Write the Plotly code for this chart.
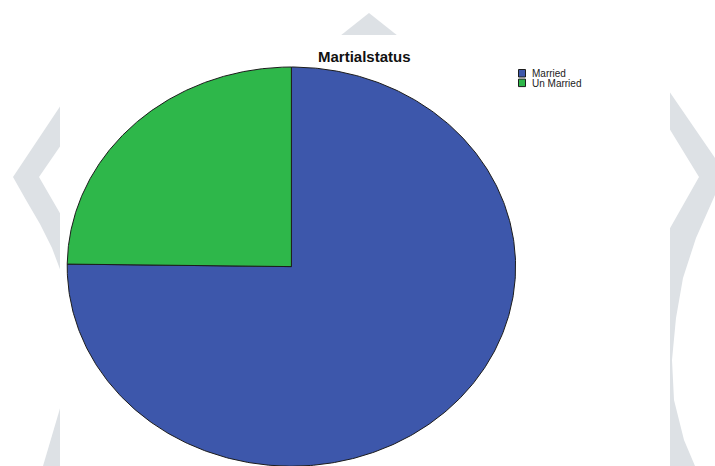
import numpy as np
import plotly.graph_objects as go

# Marital status shares (percent)
categories = ["Married", "Un Married"]
shares = [75.2, 24.8]
slice_colors = ["#3D57AB", "#2EB74A"]
chart_title = "Martialstatus"

W, H = 715, 466
CX, CY, RX, RY = 291.4, 266.6, 224.2, 199.6
OUTLINE = "#1c1c1c"
BG_GREY = "#DDE1E5"

fig = go.Figure()

# elliptical pie: slices start at 12 o'clock and run clockwise
total = float(sum(shares))
start = 0.0
for name, val, col in zip(categories, shares, slice_colors):
    sweep = 2 * np.pi * val / total
    t = np.linspace(start, start + sweep, 400)
    xs = np.concatenate([[CX], CX + RX * np.sin(t), [CX]])
    ys = np.concatenate([[CY], CY - RY * np.cos(t), [CY]])
    fig.add_trace(go.Scatter(
        x=xs, y=ys, mode="lines", fill="toself", fillcolor=col,
        line=dict(color=OUTLINE, width=1), name=name,
        hoverinfo="name", showlegend=False,
    ))
    start += sweep

# page decorations behind the chart panel
shapes = [
    dict(type="path", path="M 340 36 L 369 13 L 398 36 Z"),
    dict(type="path", path="M 61 105 L 13 177 L 26 200 L 40 224 L 52 248 L 61 272 "
                           "L 61 215 L 39 177 L 61 145 Z"),
    dict(type="path", path="M 61 405 L 43 466 L 61 466 Z"),
    dict(type="path", path="M 669 91 L 715 158 L 715 195 L 696 238 L 683 278 L 676 318 "
                           "L 672 360 L 674 400 L 684 440 L 695 466 L 669 466 L 669 230 "
                           "L 699 177 L 669 128 Z"),
]
for s in shapes:
    s.update(xref="x", yref="y", fillcolor=BG_GREY, line=dict(width=0), layer="below")
shapes.append(dict(type="rect", xref="x", yref="y", x0=60, x1=670, y0=35, y1=H,
                   fillcolor="white", line=dict(width=0), layer="below"))

# legend boxes
annotations = []
for i, (name, col) in enumerate(zip(categories, slice_colors)):
    y0 = 69.5 + i * 9.6
    shapes.append(dict(type="rect", xref="x", yref="y", x0=518.5, x1=525.5,
                       y0=y0, y1=y0 + 7.5, fillcolor=col,
                       line=dict(color=OUTLINE, width=1)))
    annotations.append(dict(x=529.5, y=y0 + 3.9, xref="x", yref="y", text=name,
                            showarrow=False, xanchor="left", yanchor="middle",
                            font=dict(family="Liberation Sans, Arial", size=10,
                                      color="#222222")))

annotations.append(dict(x=364, y=56.5, xref="x", yref="y",
                        text="<b>" + chart_title + "</b>", showarrow=False,
                        xanchor="center", yanchor="middle",
                        font=dict(family="Liberation Sans, Arial", size=15,
                                  color="#111111")))

fig.update_layout(
    width=W, height=H,
    margin=dict(l=0, r=0, t=0, b=0),
    paper_bgcolor="white", plot_bgcolor="rgba(0,0,0,0)",
    xaxis=dict(range=[0, W], visible=False, fixedrange=True),
    yaxis=dict(range=[H, 0], visible=False, fixedrange=True),
    shapes=shapes, annotations=annotations,
    showlegend=False,
)

fig.write_html("out.html", config={"displayModeBar": False})
